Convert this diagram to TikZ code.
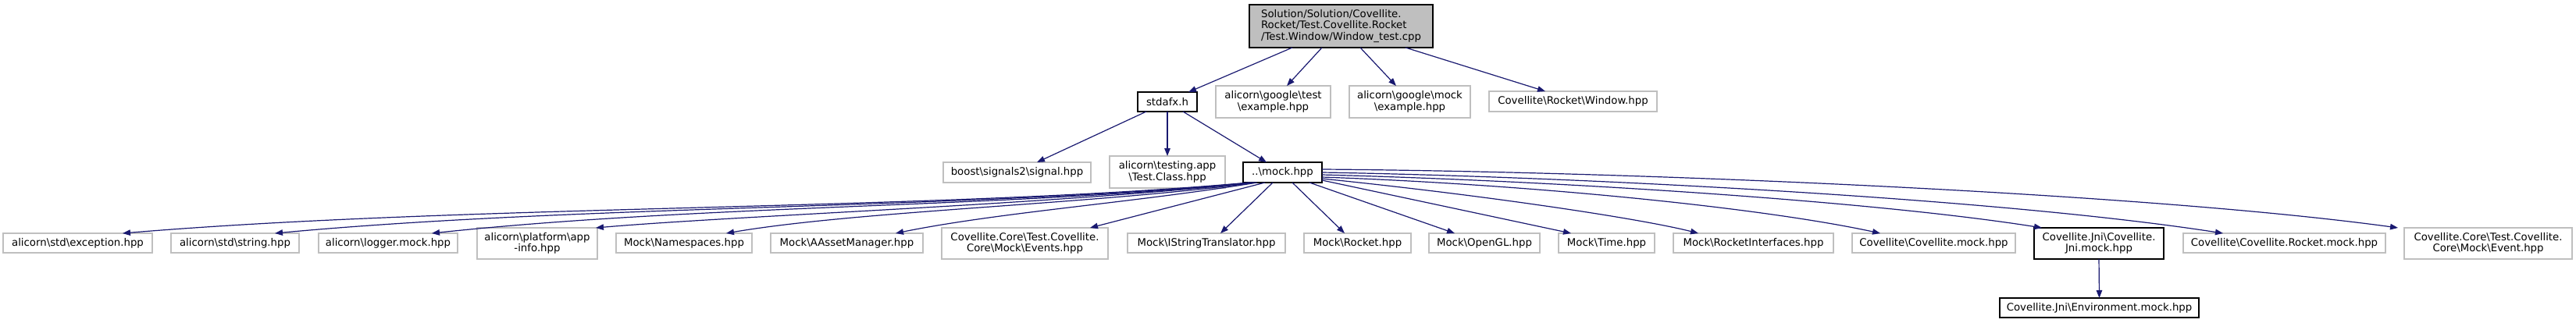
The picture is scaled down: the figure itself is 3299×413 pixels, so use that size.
\documentclass[tikz,border=0pt]{standalone}
\usepackage{fontspec}
\setmainfont{DejaVu Sans}
\usetikzlibrary{arrows.meta}
\definecolor{edgeblue}{HTML}{191970}
\definecolor{boxgray}{HTML}{BFBFBF}
\newcommand{\bs}{\textbackslash}
\begin{document}
\begin{tikzpicture}[x=1pt,y=-1pt,
 every node/.style={font=\fontsize{13.3}{14.5}\selectfont, inner sep=0pt, outer sep=0pt, align=center},
 gbox/.style={draw=boxgray, line width=1.2pt, fill=white},
 bbox/.style={draw=black, line width=1.4pt, fill=white},
 rootbox/.style={draw=black, line width=1.4pt, fill=boxgray, align=left},
 one/.style={minimum height=25pt},
 two/.style={minimum height=40pt},
 dep/.style={draw=edgeblue, line width=1.2pt, -{Triangle[length=10pt,width=7.5pt]}},
]
\useasboundingbox (0,0) rectangle (3299,413);

% level 0
\node[rootbox, minimum width=235pt, minimum height=55pt] (root) at (1717.5,33.5)
  {Solution/Solution/Covellite.\\Rocket/Test.Covellite.Rocket\\/Test.Window/Window\_test.cpp};

% level 1
\node[bbox, minimum width=76pt, one] (stdafx) at (1495,130.5) {stdafx.h};
\node[gbox, minimum width=147pt, minimum height=41pt] (gtest) at (1630.5,130.5) {alicorn\bs google\bs test\\\bs example.hpp};
\node[gbox, minimum width=155pt, minimum height=41pt] (gmock) at (1805.5,130.5) {alicorn\bs google\bs mock\\\bs example.hpp};
\node[gbox, minimum width=215pt, minimum height=26pt] (window) at (2014.5,130) {Covellite\bs Rocket\bs Window.hpp};

% level 2
\node[gbox, minimum width=189pt, minimum height=26pt] (boost) at (1302.5,221) {boost\bs signals2\bs signal.hpp};
\node[gbox, minimum width=148pt, minimum height=41pt] (testclass) at (1495,220.5) {alicorn\bs testing.app\\\bs Test.Class.hpp};
\node[bbox, minimum width=101pt, minimum height=26pt] (mock) at (1642.5,221) {..\bs mock.hpp};

% level 3
\node[gbox, minimum width=191pt, one] (exception) at (99.5,311.5) {alicorn\bs std\bs exception.hpp};
\node[gbox, minimum width=164pt, one] (string) at (301,311.5) {alicorn\bs std\bs string.hpp};
\node[gbox, minimum width=178pt, one] (logger) at (497,311.5) {alicorn\bs logger.mock.hpp};
\node[gbox, minimum width=154pt, two] (appinfo) at (688,312) {alicorn\bs platform\bs app\\-info.hpp};
\node[gbox, minimum width=174pt, one] (namespaces) at (876,311.5) {Mock\bs Namespaces.hpp};
\node[gbox, minimum width=195pt, one] (aasset) at (1084.5,311.5) {Mock\bs AAssetManager.hpp};
\node[gbox, minimum width=213pt, two] (events) at (1312.5,312) {Covellite.Core\bs Test.Covellite.\\Core\bs Mock\bs Events.hpp};
\node[gbox, minimum width=202pt, one] (istring) at (1545,311.5) {Mock\bs IStringTranslator.hpp};
\node[gbox, minimum width=137pt, one] (rocket) at (1738.5,311.5) {Mock\bs Rocket.hpp};
\node[gbox, minimum width=142pt, one] (opengl) at (1901,311.5) {Mock\bs OpenGL.hpp};
\node[gbox, minimum width=123pt, one] (time) at (2057.5,311.5) {Mock\bs Time.hpp};
\node[gbox, minimum width=205pt, one] (rocketif) at (2245.5,311.5) {Mock\bs RocketInterfaces.hpp};
\node[gbox, minimum width=209pt, one] (covmock) at (2476.5,311.5) {Covellite\bs Covellite.mock.hpp};
\node[bbox, minimum width=166pt, two] (jnimock) at (2688,312) {Covellite.Jni\bs Covellite.\\Jni.mock.hpp};
\node[gbox, minimum width=259pt, one] (rocketmock) at (2925.5,311.5) {Covellite\bs Covellite.Rocket.mock.hpp};
\node[gbox, minimum width=215pt, two] (event) at (3186.5,312) {Covellite.Core\bs Test.Covellite.\\Core\bs Mock\bs Event.hpp};

% level 4
\node[bbox, minimum width=255pt, one] (env) at (2688.5,394.5) {Covellite.Jni\bs Environment.mock.hpp};

% edges from root
\draw[dep] ([xshift=-62.5pt]root.south) -- ([xshift=27pt]stdafx.north);
\draw[dep] ([xshift=-24.5pt]root.south) -- ([xshift=17.5pt]gtest.north);
\draw[dep] ([xshift=24.5pt]root.south) -- ([xshift=-17.5pt]gmock.north);
\draw[dep] ([xshift=82.5pt]root.south) -- ([xshift=-35.5pt]window.north);

% edges from stdafx
\draw[dep] ([xshift=-27pt]stdafx.south) -- ([xshift=25.5pt]boost.north);
\draw[dep] (stdafx.south) -- (testclass.north);
\draw[dep] ([xshift=20pt]stdafx.south) -- ([xshift=-20.5pt]mock.north);

% edges from mock.hpp (left)
\draw[dep] ([xshift=8pt]mock.south west) .. controls (1200,270) and (600,262) .. ([xshift=57.5pt]exception.north);
\draw[dep] ([xshift=10pt]mock.south west) .. controls (1250,268) and (750,262) .. ([xshift=51pt]string.north);
\draw[dep] ([xshift=12pt]mock.south west) .. controls (1300,266) and (900,262) .. ([xshift=56pt]logger.north);
\draw[dep] ([xshift=14pt]mock.south west) .. controls (1350,262) and (950,276) .. ([xshift=-2pt]appinfo.north east);
\draw[dep] ([xshift=16pt]mock.south west) .. controls (1400,262) and (1100,270) .. ([xshift=54pt]namespaces.north);
\draw[dep] ([xshift=18pt]mock.south west) .. controls (1450,260) and (1280,272) .. ([xshift=62.5pt]aasset.north);
\draw[dep] ([xshift=28pt]mock.south west) -- ([xshift=83.5pt]events.north);
\draw[dep] ([xshift=38pt]mock.south west) -- ([xshift=18pt]istring.north);
% edges from mock.hpp (right)
\draw[dep] ([xshift=63pt]mock.south west) -- ([xshift=-16.5pt]rocket.north);
\draw[dep] ([xshift=85pt]mock.south west) -- ([xshift=-38pt]opengl.north);
\draw[dep] ([yshift=-10pt]mock.east) -- ([xshift=-45.5pt]time.north);
\draw[dep] ([yshift=-8pt]mock.east) .. controls (1900,250) and (2100,280) .. ([xshift=-70.5pt]rocketif.north);
\draw[dep] ([yshift=-6pt]mock.east) .. controls (1950,236) and (2250,265) .. ([xshift=-68.5pt]covmock.north);
\draw[dep] ([yshift=-3pt]mock.east) .. controls (2000,232) and (2400,258) .. ([xshift=10pt]jnimock.north west);
\draw[dep] (mock.east) .. controls (2000,226) and (2550,253) .. ([xshift=-78.5pt]rocketmock.north);
\draw[dep] ([yshift=4pt]mock.east) .. controls (2100,220) and (2750,248) .. ([xshift=-8pt]event.north west);

% jni -> environment
\draw[dep] (jnimock.south) -- (env.north);
\end{tikzpicture}
\end{document}
